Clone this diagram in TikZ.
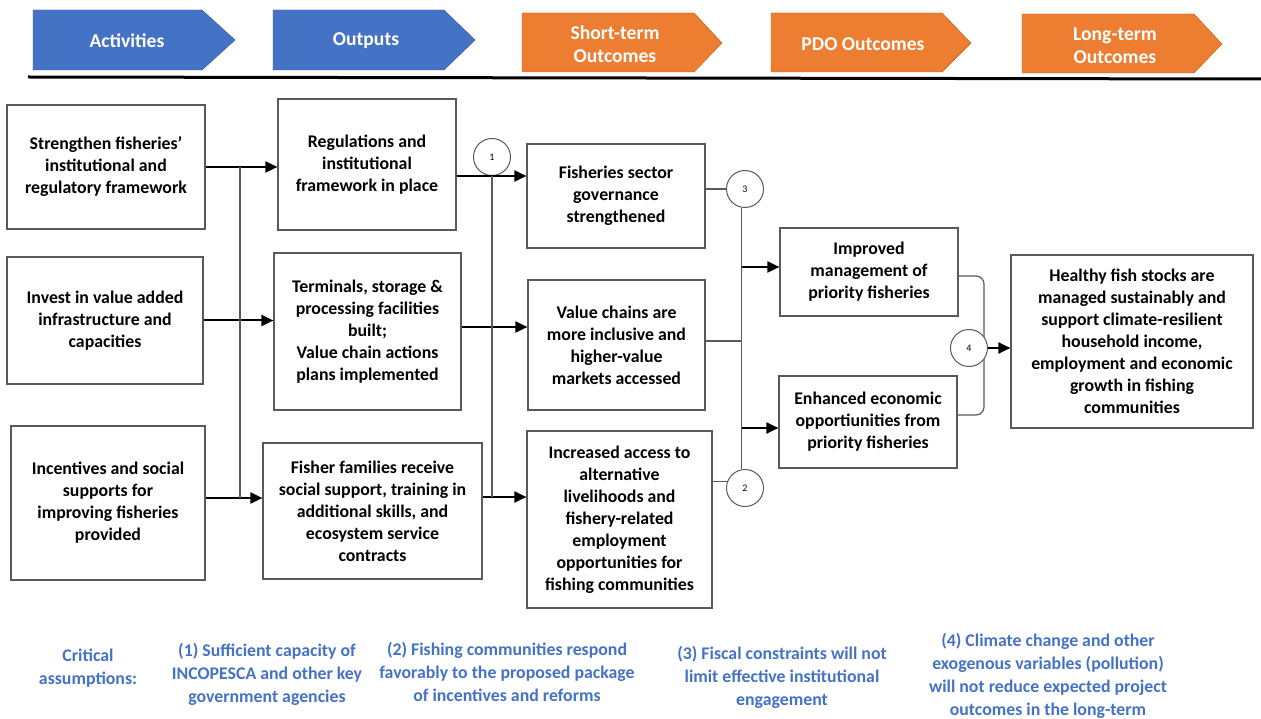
\documentclass[tikz,border=0pt]{standalone}
\usepackage{fontspec}
\setmainfont{Carlito}
\usetikzlibrary{arrows.meta}
\definecolor{hdrblue}{HTML}{4472C4}
\definecolor{hdrblueline}{HTML}{2F5597}
\definecolor{hdrorange}{HTML}{ED7D31}
\definecolor{hdrorangeline}{HTML}{C55A11}
\definecolor{boxline}{HTML}{595959}
\definecolor{notetext}{HTML}{4472C4}

\begin{document}
\begin{tikzpicture}[x=1pt,y=-1pt,
  box/.style={draw=boxline,line width=1.2pt,fill=white,align=center,inner sep=0pt,
    font=\bfseries\fontsize{17.8}{22}\selectfont},
  hdr/.style={text=white,align=center,font=\bfseries\fontsize{19.6}{23}\selectfont},
  note/.style={text=notetext,align=center,font=\bfseries\fontsize{17.8}{23}\selectfont},
  num/.style={draw=boxline,circle,fill=white,line width=1pt,minimum size=37pt,
    inner sep=0pt,font=\fontsize{10}{10}\selectfont},
  flow/.style={line width=2pt,-{Triangle[length=12pt,width=11pt]}},
  bus/.style={draw=boxline,line width=1.2pt}]
\useasboundingbox (0,0) rectangle (1261,719);

% header
\filldraw[fill=hdrblue,draw=hdrblueline] (33,10) -- (202,10) -- (235,40) -- (202,70) -- (33,70) -- cycle;
\filldraw[fill=hdrblue,draw=hdrblueline] (273,10) -- (444,10) -- (475,40) -- (444,70) -- (273,70) -- cycle;
\filldraw[fill=hdrorange,draw=hdrorangeline] (522,13) -- (694,13) -- (722,43) -- (694,72) -- (522,72) -- cycle;
\filldraw[fill=hdrorange,draw=hdrorangeline] (771,13) -- (942,13) -- (971,43) -- (942,72) -- (771,72) -- cycle;
\filldraw[fill=hdrorange,draw=hdrorangeline] (1022,14) -- (1194,14) -- (1222,44) -- (1194,73) -- (1022,73) -- cycle;
\node[hdr] (h1) at (127,41) {Activities};
\node[hdr] (h2) at (366,41) {Outputs};
\node[hdr] (h3) at (615,44) {Short-term\\Outcomes};
\node[hdr] (h4) at (863,44) {PDO Outcomes};
\node[hdr] (h5) at (1115,46) {Long-term\\Outcomes};
\draw[line width=3pt] (28,77) -- (1261,79);

% activities
\node[box,minimum width=198pt,minimum height=124pt] (a1) at (106,167) {Strengthen fisheries'\\institutional and\\regulatory framework};
\node[box,minimum width=196pt,minimum height=127pt] (a2) at (105,320.5) {Invest in value added\\infrastructure and\\capacities};
\node[box,minimum width=194pt,minimum height=154pt] (a3) at (108,503) {Incentives and social\\supports for\\improving fisheries\\provided};

% outputs
\node[box,minimum width=178pt,minimum height=131pt] (o1) at (367,164.5) {Regulations and\\institutional\\framework in place};
\node[box,minimum width=187pt,minimum height=157pt] (o2) at (367.5,331.5) {Terminals, storage \&\\processing facilities\\built;\\Value chain actions\\plans implemented};
\node[box,minimum width=219pt,minimum height=136pt] (o3) at (372.5,511) {Fisher families receive\\social support, training in\\additional skills, and\\ecosystem service\\contracts};

% short-term
\node[box,minimum width=178pt,minimum height=104pt] (s1) at (616,196) {Fisheries sector\\governance\\strengthened};
\node[box,minimum width=177pt,minimum height=130pt] (s2) at (616.5,345) {Value chains are\\more inclusive and\\higher-value\\markets accessed};
\node[box,minimum width=185pt,minimum height=177pt] (s3) at (619.5,519.5) {Increased access to\\alternative\\livelihoods and\\fishery-related\\employment\\opportunities for\\fishing communities};

% pdo
\node[box,minimum width=178pt,minimum height=88pt] (p1) at (869,272) {Improved\\management of\\priority fisheries};
\node[box,minimum width=178pt,minimum height=92pt] (p2) at (868,422) {Enhanced economic\\opportiunities from\\priority fisheries};

% long-term
\node[box,minimum width=242pt,minimum height=173pt] (lt) at (1132,341.5) {Healthy fish stocks are\\managed sustainably and\\support climate-resilient\\household income,\\employment and economic\\growth in fishing\\communities};

% assumption circles
\node[num] (c1) at (492,157) {1};
\node[num] (c3) at (745,189) {3};
\node[num] (c2) at (745,488) {2};

% activities -> outputs
\coordinate (lbus) at (240,0);
\coordinate (a3out) at ([yshift=5pt]a3.east);
\draw[flow] (a1.east) -- (a1.east -| o1.west);
\draw[flow] (a2.east) -- (a2.east -| o2.west);
\draw[flow] (a3out) -- (a3out -| o3.west);
\draw[bus] (a1.east -| lbus) -- (a3out -| lbus);

% outputs -> short-term
\coordinate (o2out) at ([yshift=4.5pt]o2.east);
\coordinate (o3out) at ([yshift=14pt]o3.east);
\draw[flow] (o1.east |- c1.south) -- (s1.west |- c1.south);
\draw[flow] (o2out) -- (o2out -| s2.west);
\draw[flow] (o3out) -- (o3out -| s3.west);
\draw[bus] (c1.south) -- (c1.south |- o3out);

% short-term -> pdo
\coordinate (p1in) at ([yshift=5pt]p1.west);
\coordinate (p2in) at ([yshift=-6pt]p2.west);
\draw[bus] (s1.east |- c3.west) -- (c3.west);
\draw[bus] (c2.160) -- (c2.160 -| s3.east);
\draw[bus] (c3.260) -- (c2.100);
\draw[bus] ([yshift=4pt]s2.east) -- ([yshift=4pt]s2.east -| c3.260);
\draw[flow] (p1in -| c3.260) -- (p1in);
\draw[flow] (p2in -| c3.260) -- (p2in);

% pdo -> long-term
\coordinate (brk) at (984,0);
\coordinate (p1out) at ([yshift=-4pt]p1.east);
\coordinate (p2out) at ([yshift=7pt]p2.east);
\draw[bus,rounded corners=8pt] (p1out) -- (p1out -| brk) -- (p2out -| brk) -- (p2out);
\node[num] (c4) at (969,348) {4};
\draw[flow] (c4.east) -- (c4.east -| lt.west);

% critical assumptions
\node[note] (n0) at (88,668) {Critical\\assumptions:};
\node[note] (n1) at (267,674) {(1) Sufficient capacity of\\INCOPESCA and other key\\government agencies};
\node[note] (n2) at (507,672) {(2) Fishing communities respond\\favorably to the proposed package\\of incentives and reforms};
\node[note] (n3) at (782,677) {(3) Fiscal constraints will not\\limit effective institutional\\engagement};
\node[note] (n4) at (1048,676) {(4) Climate change and other\\exogenous variables (pollution)\\will not reduce expected project\\outcomes in the long-term};
\end{tikzpicture}
\end{document}
